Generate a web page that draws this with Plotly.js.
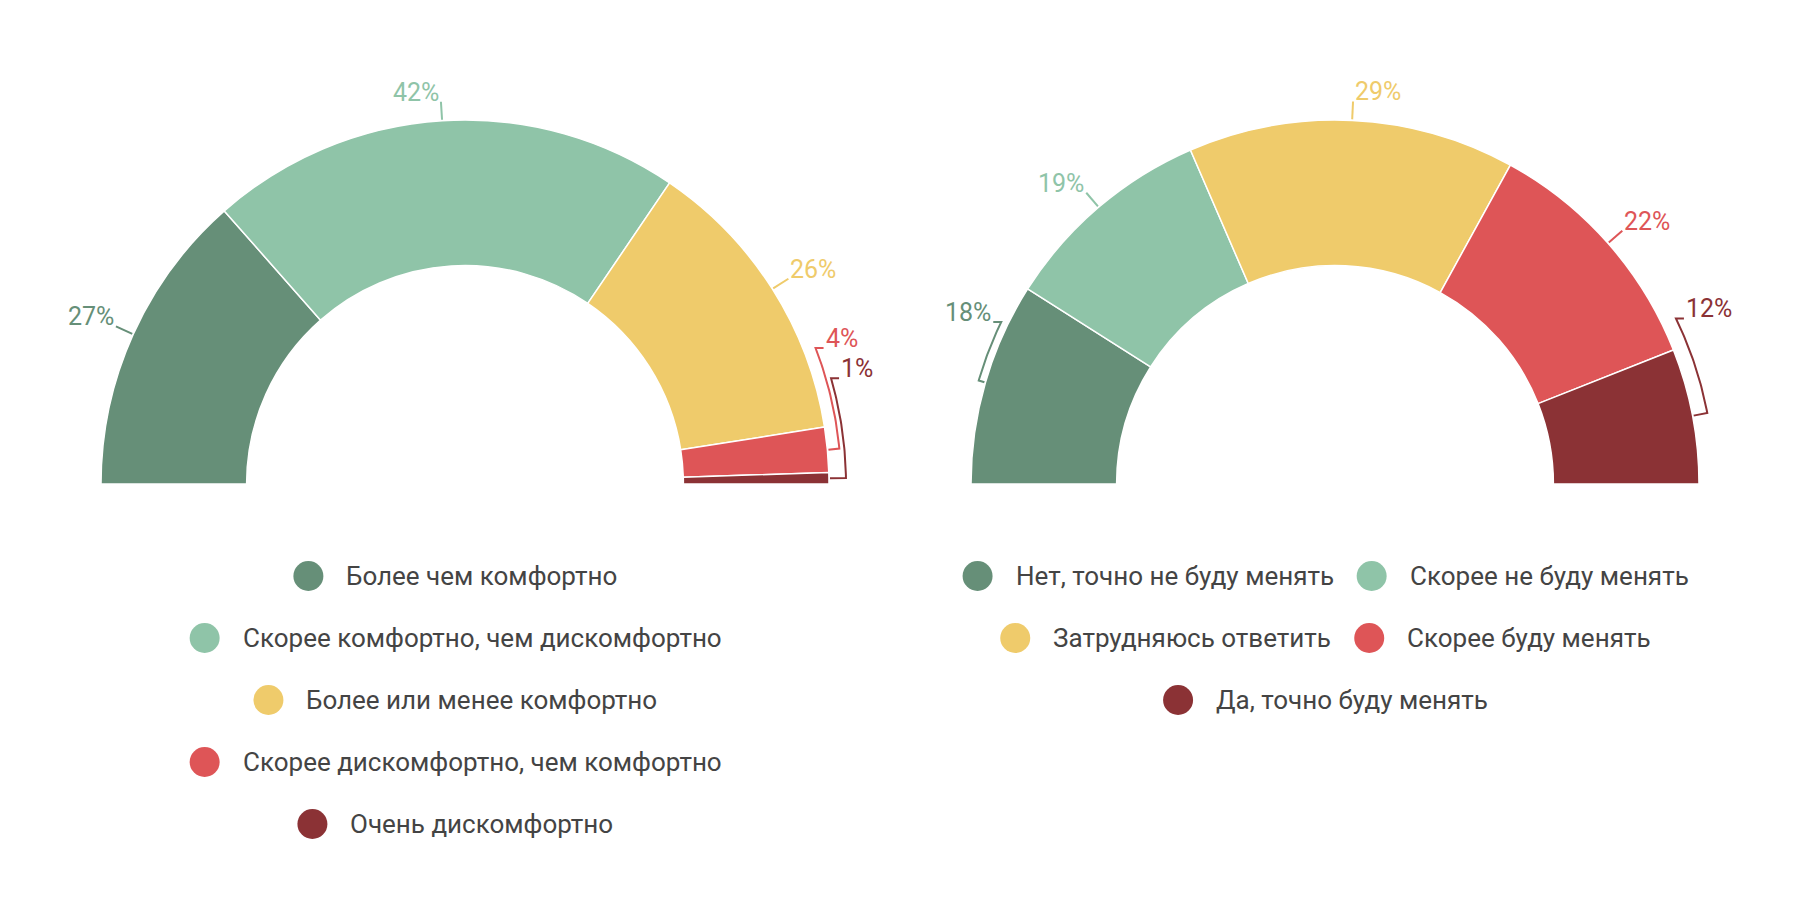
<!DOCTYPE html>
<html>
<head>
<meta charset="utf-8">
<script src="https://cdn.plot.ly/plotly-3.0.1.min.js"></script>
<style>
html,body{margin:0;padding:0;background:#fff;}
#chart{width:1800px;height:898px;}
</style>
</head>
<body>
<div id="chart"></div>
<script>
// ---------------- DATA ----------------
const leftCategories = ['Более чем комфортно', 'Скорее комфортно, чем дискомфортно', 'Более или менее комфортно', 'Скорее дискомфортно, чем комфортно', 'Очень дискомфортно'];
const leftValues = [27, 42, 26, 4, 1];
const rightCategories = ['Нет, точно не буду менять', 'Скорее не буду менять', 'Затрудняюсь ответить', 'Скорее буду менять', 'Да, точно буду менять'];
const rightValues = [18, 19, 29, 22, 12];
const sliceColors = ['#668F78', '#8FC4A8', '#EFCB6B', '#DE5557', '#8B3235'];

// ---------------- LAYOUT / STYLE ----------------
const W = 1800, H = 898;
const R = 364, HOLE = 0.6, CY = 484;
const FONT = 'Roboto, sans-serif';
const TEXT_COLOR = '#444444';

// label placement (style): bracketed leader lines for narrow/edge slices
const leftLabelStyle = [{}, {}, {}, {bracket: true, labelAngle: 21.2, rb: 376}, {bracket: true, labelAngle: 16.1, rb: 381}];
const rightLabelStyle = [{bracket: true, labelAngle: 154.1, rb: 371}, {}, {}, {}, {bracket: true, labelAngle: 25.9, rb: 379}];

const charts = [
  {cats: leftCategories, vals: leftValues, cx: 465, labelStyle: leftLabelStyle, legendCx: 455, legendRows: [[0], [1], [2], [3], [4]]},
  {cats: rightCategories, vals: rightValues, cx: 1335, labelStyle: rightLabelStyle, legendCx: 1325, legendRows: [[0, 1], [2, 3], [4]]}
];

const LEG_Y0 = 576, LEG_DY = 62, DOT = 30, DOT_GAP = 22, ITEM_GAP = 24;
const LEG_FONT_SIZE = 26, LEG_WEIGHT = 400;
const LBL_FONT_SIZE = 25;

const traces = [];
const annotations = [];

const canvas = document.createElement('canvas');
const ctx = canvas.getContext('2d');
ctx.font = LEG_WEIGHT + ' ' + LEG_FONT_SIZE + 'px Roboto';
function textW(s) { return ctx.measureText(s).width; }

const deg = Math.PI / 180;
function P(cx, a, r) { return [cx + r * Math.cos(a * deg), CY - r * Math.sin(a * deg)]; }

charts.forEach(function (ch) {
  const total = ch.vals.reduce((s, v) => s + v, 0);
  // half donut: add invisible slice equal to total
  traces.push({
    type: 'pie',
    values: ch.vals.concat([total]),
    labels: ch.cats.concat(['__hidden__']),
    sort: false,
    direction: 'clockwise',
    rotation: -90,
    hole: HOLE,
    textinfo: 'none',
    hoverinfo: 'none',
    showlegend: false,
    marker: {
      colors: sliceColors.concat(['rgba(0,0,0,0)']),
      line: {color: '#ffffff', width: ch.vals.map(() => 1.5).concat([0])}
    },
    domain: {
      x: [(ch.cx - R) / W, (ch.cx + R) / W],
      y: [(H - CY - R) / H, (H - CY + R) / H]
    }
  });

  // leader lines and percent labels
  let cum = 0;
  ch.vals.forEach(function (v, i) {
    const a0 = 180 - cum * 180 / total;
    const a1 = 180 - (cum + v) * 180 / total;
    cum += v;
    const mid = (a0 + a1) / 2;
    const st = ch.labelStyle[i] || {};
    const xs = [], ys = [];
    let end, side;
    if (st.bracket) {
      const p0 = P(ch.cx, mid, R + 1);
      xs.push(p0[0]); ys.push(p0[1]);
      const n = 30;
      for (let k = 0; k <= n; k++) {
        const a = mid + (st.labelAngle - mid) * k / n;
        const p = P(ch.cx, a, st.rb);
        xs.push(p[0]); ys.push(p[1]);
      }
      side = Math.cos(st.labelAngle * deg) >= 0 ? 1 : -1;
      const pe = P(ch.cx, st.labelAngle, st.rb);
      end = [pe[0] + side * 8, pe[1]];
      xs.push(end[0]); ys.push(end[1]);
    } else {
      const p0 = P(ch.cx, mid, R + 1);
      const p1 = P(ch.cx, mid, R + 19);
      xs.push(p0[0], p1[0]); ys.push(p0[1], p1[1]);
      end = p1;
      side = Math.cos(mid * deg) >= 0 ? 1 : -1;
    }
    traces.push({
      type: 'scatter', mode: 'lines', x: xs, y: ys,
      line: {color: sliceColors[i], width: 2},
      hoverinfo: 'skip', showlegend: false, xaxis: 'x', yaxis: 'y'
    });
    annotations.push({
      xref: 'x', yref: 'y', x: end[0], y: end[1],
      text: v + '%', showarrow: false,
      xanchor: side > 0 ? 'left' : 'right', yanchor: 'bottom',
      yshift: -7,
      font: {family: FONT, size: LBL_FONT_SIZE, color: sliceColors[i]}
    });
  });

  // custom centered legend
  const dotX = [], dotY = [], dotC = [];
  ch.legendRows.forEach(function (row, r) {
    const y = LEG_Y0 + r * LEG_DY;
    const widths = row.map(i => DOT + DOT_GAP + textW(ch.cats[i]));
    const rowW = widths.reduce((s, w) => s + w, 0) + ITEM_GAP * (row.length - 1);
    let x = ch.legendCx - rowW / 2;
    row.forEach(function (i, k) {
      dotX.push(x + DOT / 2); dotY.push(y); dotC.push(sliceColors[i]);
      annotations.push({
        xref: 'x', yref: 'y', x: x + DOT + DOT_GAP - 1, y: y,
        text: ch.cats[i], showarrow: false,
        xanchor: 'left', yanchor: 'middle',
        font: {family: FONT, size: LEG_FONT_SIZE, color: TEXT_COLOR, weight: LEG_WEIGHT}
      });
      x += widths[k] + ITEM_GAP;
    });
  });
  traces.push({
    type: 'scatter', mode: 'markers', x: dotX, y: dotY,
    marker: {size: DOT, color: dotC, line: {width: 0}},
    hoverinfo: 'skip', showlegend: false, xaxis: 'x', yaxis: 'y'
  });
});

const layout = {
  width: W, height: H,
  margin: {l: 0, r: 0, t: 0, b: 0},
  paper_bgcolor: '#ffffff', plot_bgcolor: 'rgba(0,0,0,0)',
  showlegend: false,
  xaxis: {range: [0, W], visible: false, fixedrange: true, domain: [0, 1]},
  yaxis: {range: [H, 0], visible: false, fixedrange: true, domain: [0, 1]},
  annotations: annotations,
  font: {family: FONT}
};

Plotly.newPlot('chart', traces, layout, {staticPlot: true});
</script>
</body>
</html>
